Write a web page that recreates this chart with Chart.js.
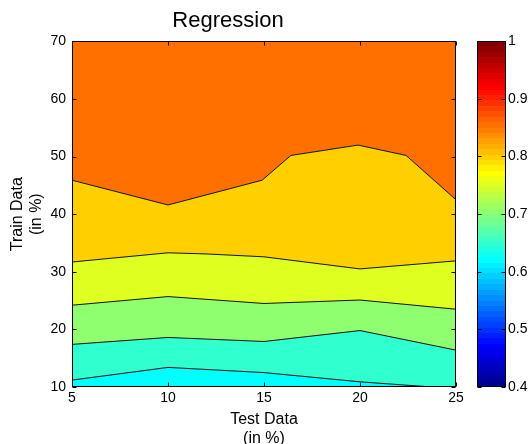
<!DOCTYPE html>
<html>
<head>
<meta charset="utf-8">
<script src="https://cdn.jsdelivr.net/npm/chart.js@4.4.1/dist/chart.umd.min.js"></script>
<style>
  body { margin: 0; background: #fff; }
  #wrap { position: relative; width: 530px; height: 444px; }
  #wrap canvas { position: absolute; left: 0; top: 0; }
</style>
</head>
<body>
<div id="wrap">
  <canvas id="plot" width="530" height="444"></canvas>
  <canvas id="cbar" width="530" height="444"></canvas>
</div>
<script>
// contour boundaries (Test Data % on x, Train Data % on y), bottom to top
var c1X = [5, 10, 15, 20, 25];
var c1Y = [11.2, 13.4, 12.5, 10.9, 9.7];
var c2X = [5, 10, 15, 20, 25];
var c2Y = [17.4, 18.6, 17.9, 19.8, 16.4];
var c3X = [5, 10, 15, 20, 25];
var c3Y = [24.2, 25.7, 24.5, 25.1, 23.5];
var c4X = [5, 10, 12, 15, 20, 25];
var c4Y = [31.7, 33.3, 33.1, 32.6, 30.5, 31.9];
var c5X = [5, 10, 14.9, 16.4, 19.9, 22.4, 25];
var c5Y = [45.9, 41.6, 45.9, 50.2, 52.0, 50.2, 42.5];
var topX = [5, 25];
var topY = [70, 70];

// fill colour of the band just below each boundary, plus the top band
var bandColors = ['#00ffff', '#30ffcf', '#8fff70', '#dfff20', '#ffcf00', '#ff7000'];

var xTickValues = [5, 10, 15, 20, 25];
var yTickValues = [10, 20, 30, 40, 50, 60, 70];
var cbTickValues = [0.4, 0.5, 0.6, 0.7, 0.8, 0.9, 1];
var cbRange = [0.4, 1];
var cbLabels = ['colorbar'];

Chart.defaults.font.family = '"Liberation Sans", Arial, Helvetica, sans-serif';
Chart.defaults.color = '#000';

function pts(xs, ys) {
  return xs.map(function (x, i) { return { x: x, y: ys[i] }; });
}

function setTicks(values) {
  return function (scale) {
    scale.ticks = values.map(function (v) { return { value: v }; });
  };
}

// MATLAB jet(64)
function jet64() {
  var u = [], i, out = [];
  for (i = 1; i <= 16; i++) u.push(i / 16);
  for (i = 0; i < 15; i++) u.push(1);
  for (i = 16; i >= 1; i--) u.push(i / 16);
  for (i = 0; i < 64; i++) out.push([0, 0, 0]);
  for (var k = 0; k < u.length; k++) {
    if (24 + k < 64) out[24 + k][0] = u[k];
    out[8 + k][1] = u[k];
    if (k - 8 >= 0) out[k - 8][2] = u[k];
  }
  return out.map(function (c) {
    return 'rgb(' + Math.round(c[0] * 255) + ',' + Math.round(c[1] * 255) + ',' + Math.round(c[2] * 255) + ')';
  });
}

// box around the axes with inward tick marks, MATLAB style
var framePlugin = {
  id: 'frame',
  afterDatasetsDraw: function (chart) {
    var ctx = chart.ctx, a = chart.chartArea, len = 4;
    var l = Math.round(a.left) + 0.5, r = Math.round(a.right) - 0.5;
    var t = Math.round(a.top) + 0.5, b = Math.round(a.bottom) - 0.5;
    ctx.save();
    ctx.strokeStyle = '#000';
    ctx.lineWidth = 1;
    ctx.beginPath();
    Object.keys(chart.scales).forEach(function (id) {
      var s = chart.scales[id];
      if (s.options.display === false) return;
      s.ticks.forEach(function (tk) {
        var p = Math.round(s.getPixelForValue(tk.value)) + 0.5;
        if (s.isHorizontal()) {
          ctx.moveTo(p, b); ctx.lineTo(p, b - len);
          ctx.moveTo(p, t); ctx.lineTo(p, t + len);
        } else {
          ctx.moveTo(l, p); ctx.lineTo(l + len, p);
          ctx.moveTo(r, p); ctx.lineTo(r - len, p);
        }
      });
    });
    ctx.stroke();
    ctx.strokeRect(l, t, r - l, b - t);
    ctx.restore();
  }
};

function band(xs, ys, i, fill) {
  return {
    data: pts(xs, ys),
    borderColor: '#111',
    borderWidth: i === 5 ? 0 : 1,
    backgroundColor: bandColors[i],
    fill: fill,
    pointRadius: 0,
    tension: 0,
    clip: 0
  };
}

new Chart(document.getElementById('plot'), {
  type: 'line',
  data: {
    datasets: [
      band(c1X, c1Y, 0, 'start'),
      band(c2X, c2Y, 1, '-1'),
      band(c3X, c3Y, 2, '-1'),
      band(c4X, c4Y, 3, '-1'),
      band(c5X, c5Y, 4, '-1'),
      band(topX, topY, 5, '-1')
    ]
  },
  options: {
    responsive: false,
    animation: false,
    events: [],
    layout: { padding: { left: 0, right: 74, top: 0, bottom: 0 } },
    plugins: {
      legend: { display: false },
      tooltip: { enabled: false },
      filler: { drawTime: 'beforeDatasetsDraw' },
      title: {
        display: true,
        text: 'Regression',
        font: { size: 22, weight: 'normal' },
        padding: { top: 8, bottom: 7 }
      }
    },
    scales: {
      x: {
        type: 'linear',
        min: 5, max: 25,
        afterBuildTicks: setTicks(xTickValues),
        afterFit: function (s) { s.height = 57; },
        grid: { display: false, drawTicks: false },
        border: { display: false },
        ticks: { font: { size: 14 }, padding: 3, maxRotation: 0 },
        title: {
          display: true,
          text: ['Test Data', '(in %)'],
          font: { size: 16 },
          padding: { top: 0, bottom: -4 }
        }
      },
      y: {
        type: 'linear',
        min: 10, max: 70,
        afterBuildTicks: setTicks(yTickValues),
        afterFit: function (s) { s.width = 72; },
        grid: { display: false, drawTicks: false },
        border: { display: false },
        ticks: { font: { size: 14 }, padding: 6 },
        title: {
          display: true,
          text: ['Train Data', '(in %)'],
          font: { size: 16 },
          padding: { top: 8, bottom: 0 }
        }
      }
    }
  },
  plugins: [framePlugin]
});

var jetColors = jet64();

new Chart(document.getElementById('cbar'), {
  type: 'bar',
  data: {
    labels: cbLabels,
    datasets: [{
      data: [cbRange],
      borderWidth: 0,
      barPercentage: 1,
      categoryPercentage: 1,
      backgroundColor: function (c) {
        var a = c.chart.chartArea;
        if (!a) return jetColors[32];
        var g = c.chart.ctx.createLinearGradient(0, a.bottom, 0, a.top);
        jetColors.forEach(function (col, i) {
          g.addColorStop(i / 64, col);
          g.addColorStop((i + 1) / 64, col);
        });
        return g;
      }
    }]
  },
  options: {
    responsive: false,
    animation: false,
    events: [],
    layout: { padding: { left: 477, right: 0, top: 41, bottom: 57 } },
    plugins: { legend: { display: false }, tooltip: { enabled: false } },
    scales: {
      x: { display: false },
      y: {
        position: 'right',
        min: cbRange[0], max: cbRange[1],
        afterBuildTicks: setTicks(cbTickValues),
        afterFit: function (s) { s.width = 24; },
        grid: { display: false, drawTicks: false },
        border: { display: false },
        ticks: {
          font: { size: 14 },
          padding: 2,
          callback: function (v) { return String(+v.toFixed(1)); }
        }
      }
    }
  },
  plugins: [framePlugin]
});
</script>
</body>
</html>
